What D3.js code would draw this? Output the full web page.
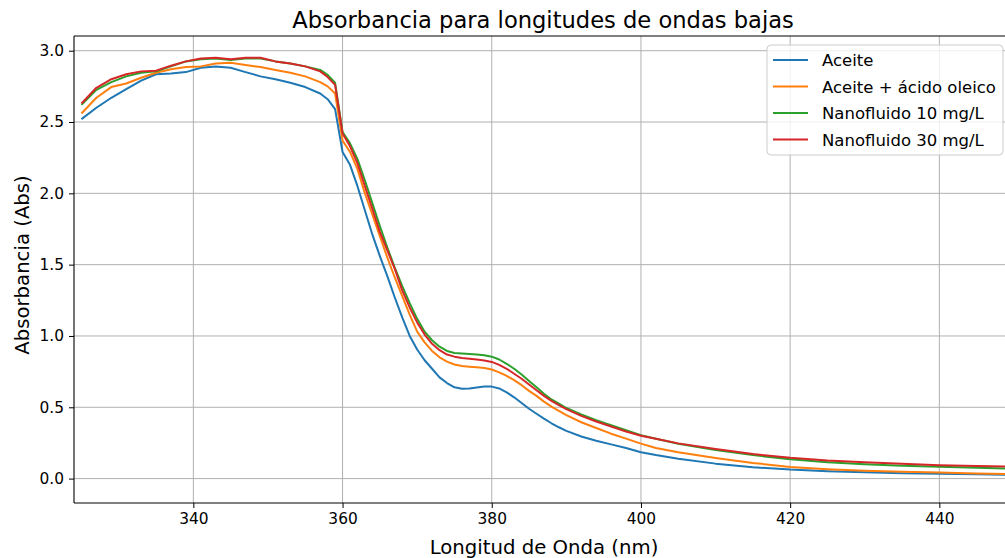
<!DOCTYPE html>
<html>
<head>
<meta charset="utf-8">
<script src="https://cdn.jsdelivr.net/npm/d3@7"></script>
<style>
  body { margin: 0; background: #fff; }
  svg { display: block; font-family: "DejaVu Sans", sans-serif; }
</style>
</head>
<body>
<svg width="1005" height="558"></svg>
<script>
// wavelengths (nm)
var wavelength = [325, 327, 329, 331, 333, 335, 337, 339, 341, 343, 345, 347, 349, 351, 353, 355, 357, 358, 359,
  360, 361, 362, 363, 364, 365, 366, 367, 368, 369, 370, 371, 372, 373, 374, 375, 376, 377, 378, 379, 380,
  381, 382, 383, 384, 385, 386, 387, 388, 389, 390,
  392, 394, 396, 398, 400, 402,
  405, 410, 415, 420, 425, 430, 435, 440, 445, 450];

var aceite = [2.52, 2.60, 2.67, 2.73, 2.79, 2.835, 2.84, 2.85, 2.88, 2.89, 2.88, 2.85, 2.82, 2.80, 2.775, 2.745, 2.70, 2.66, 2.59,
  2.29, 2.20, 2.05, 1.88, 1.71, 1.56, 1.42, 1.27, 1.13, 1.00, 0.905, 0.83, 0.77, 0.71, 0.67, 0.64, 0.63, 0.632, 0.638, 0.645, 0.645,
  0.632, 0.605, 0.57, 0.53, 0.49, 0.455, 0.42, 0.388, 0.36, 0.335,
  0.295, 0.265, 0.24, 0.215, 0.185, 0.165,
  0.14, 0.105, 0.08, 0.063, 0.052, 0.044, 0.038, 0.034, 0.03, 0.027];

var aceiteOleico = [2.56, 2.67, 2.745, 2.77, 2.81, 2.845, 2.87, 2.885, 2.89, 2.91, 2.915, 2.90, 2.885, 2.865, 2.845, 2.82, 2.78, 2.75, 2.70,
  2.37, 2.29, 2.17, 2.00, 1.85, 1.70, 1.55, 1.41, 1.28, 1.15, 1.03, 0.955, 0.895, 0.85, 0.82, 0.80, 0.79, 0.785, 0.78, 0.775, 0.765,
  0.745, 0.72, 0.69, 0.655, 0.615, 0.58, 0.54, 0.505, 0.475, 0.445,
  0.395, 0.355, 0.315, 0.28, 0.245, 0.215,
  0.185, 0.145, 0.11, 0.082, 0.066, 0.055, 0.048, 0.042, 0.036, 0.031];

var nano10 = [2.62, 2.725, 2.78, 2.82, 2.845, 2.855, 2.89, 2.925, 2.94, 2.945, 2.935, 2.945, 2.945, 2.925, 2.91, 2.89, 2.865, 2.83, 2.775,
  2.43, 2.35, 2.24, 2.09, 1.93, 1.77, 1.62, 1.48, 1.35, 1.23, 1.12, 1.03, 0.97, 0.925, 0.895, 0.88, 0.877, 0.873, 0.87, 0.865, 0.855,
  0.835, 0.805, 0.77, 0.73, 0.685, 0.64, 0.595, 0.555, 0.525, 0.495,
  0.45, 0.41, 0.375, 0.34, 0.305, 0.28,
  0.245, 0.2, 0.165, 0.135, 0.115, 0.1, 0.09, 0.083, 0.076, 0.07];

var nano30 = [2.63, 2.74, 2.80, 2.835, 2.855, 2.86, 2.895, 2.925, 2.945, 2.95, 2.94, 2.95, 2.95, 2.925, 2.91, 2.89, 2.855, 2.815, 2.76,
  2.42, 2.33, 2.21, 2.05, 1.89, 1.73, 1.60, 1.47, 1.32, 1.20, 1.095, 1.01, 0.945, 0.90, 0.87, 0.855, 0.845, 0.84, 0.835, 0.828, 0.818,
  0.797, 0.77, 0.735, 0.70, 0.66, 0.62, 0.58, 0.545, 0.515, 0.487,
  0.44, 0.40, 0.365, 0.33, 0.30, 0.28,
  0.247, 0.207, 0.172, 0.146, 0.127, 0.114, 0.104, 0.094, 0.088, 0.083];

var seriesNames = ["Aceite", "Aceite + ácido oleico", "Nanofluido 10 mg/L", "Nanofluido 30 mg/L"];
var seriesColors = ["#1f77b4", "#ff7f0e", "#2ca02c", "#d62728"];
var xTicks = [340, 360, 380, 400, 420, 440];
var yTicks = [0.0, 0.5, 1.0, 1.5, 2.0, 2.5, 3.0];

var allSeries = [aceite, aceiteOleico, nano10, nano30];

var svg = d3.select("svg");
var plotLeft = 74, plotTop = 36, plotBottom = 503, plotRight = 1006;

var x = d3.scaleLinear().domain([324, 448.8]).range([plotLeft, 1005]);
var y = d3.scaleLinear().domain([-0.171, 3.103]).range([plotBottom, plotTop]);

// clip for the plot area (right side runs off the picture)
svg.append("defs").append("clipPath").attr("id", "plotclip")
  .append("rect").attr("x", plotLeft).attr("y", plotTop)
  .attr("width", plotRight - plotLeft).attr("height", plotBottom - plotTop);

// grid lines
var grid = svg.append("g").attr("class", "grid");
grid.selectAll("line.vx").data(xTicks).enter().append("line")
  .attr("x1", d => x(d)).attr("x2", d => x(d))
  .attr("y1", plotTop).attr("y2", plotBottom)
  .style("stroke", "#b0b0b0").style("stroke-width", 1);
grid.selectAll("line.hy").data(yTicks).enter().append("line")
  .attr("x1", plotLeft).attr("x2", plotRight)
  .attr("y1", d => y(d)).attr("y2", d => y(d))
  .style("stroke", "#b0b0b0").style("stroke-width", 1);

// lines
var line = d3.line()
  .x(function(d, i) { return x(wavelength[i]); })
  .y(function(d) { return y(d); });

svg.append("g").attr("clip-path", "url(#plotclip)")
  .selectAll("path").data(allSeries).enter().append("path")
  .attr("d", line)
  .attr("fill", "none")
  .attr("stroke", (d, i) => seriesColors[i])
  .attr("stroke-width", 2)
  .attr("stroke-linejoin", "round");

// axes
var xAxis = svg.append("g").attr("transform", "translate(0," + plotBottom + ")")
  .call(d3.axisBottom(x).tickValues(xTicks).tickSize(5).tickPadding(5).tickFormat(d3.format("d")));
var yAxis = svg.append("g").attr("transform", "translate(" + plotLeft + ",0)")
  .call(d3.axisLeft(y).tickValues(yTicks).tickSize(5).tickPadding(5).tickFormat(d3.format(".1f")));

[xAxis, yAxis].forEach(function(a) {
  a.select(".domain").remove();
  a.selectAll("text").style("font-size", "15.4px").style("fill", "#000").style("font-family", "DejaVu Sans");
  a.selectAll("line").style("stroke", "#000").style("stroke-width", 1);
});

// spines (left, bottom, top; right is off picture)
svg.append("line").attr("x1", plotLeft).attr("x2", plotLeft).attr("y1", plotTop).attr("y2", plotBottom)
  .style("stroke", "#000").style("stroke-width", 1.1);
svg.append("line").attr("x1", plotLeft).attr("x2", plotRight).attr("y1", plotBottom).attr("y2", plotBottom)
  .style("stroke", "#000").style("stroke-width", 1.1);
svg.append("line").attr("x1", plotLeft).attr("x2", plotRight).attr("y1", plotTop).attr("y2", plotTop)
  .style("stroke", "#000").style("stroke-width", 1.1);

// title and labels
svg.append("text").attr("x", 543).attr("y", 28).attr("text-anchor", "middle")
  .style("font-size", "22.6px").text("Absorbancia para longitudes de ondas bajas");
svg.append("text").attr("x", 544).attr("y", 554).attr("text-anchor", "middle")
  .style("font-size", "19.7px").text("Longitud de Onda (nm)");
svg.append("text").attr("transform", "translate(29,265) rotate(-90)").attr("text-anchor", "middle")
  .style("font-size", "19.7px").text("Absorbancia (Abs)");

// legend
var legend = svg.append("g").attr("transform", "translate(767,45)");
legend.append("rect").attr("width", 236).attr("height", 110).attr("rx", 4)
  .style("fill", "#fff").style("fill-opacity", 0.8).style("stroke", "#cccccc").style("stroke-width", 1);
var item = legend.selectAll("g.item").data(seriesNames).enter().append("g")
  .attr("transform", (d, i) => "translate(0," + (15 + i * 26.5) + ")");
item.append("line").attr("x1", 6).attr("x2", 41).attr("y1", 0).attr("y2", 0)
  .attr("stroke", (d, i) => seriesColors[i]).attr("stroke-width", 2);
item.append("text").attr("x", 55).attr("y", 6).style("font-size", "16.5px").text(d => d);
</script>
</body>
</html>
